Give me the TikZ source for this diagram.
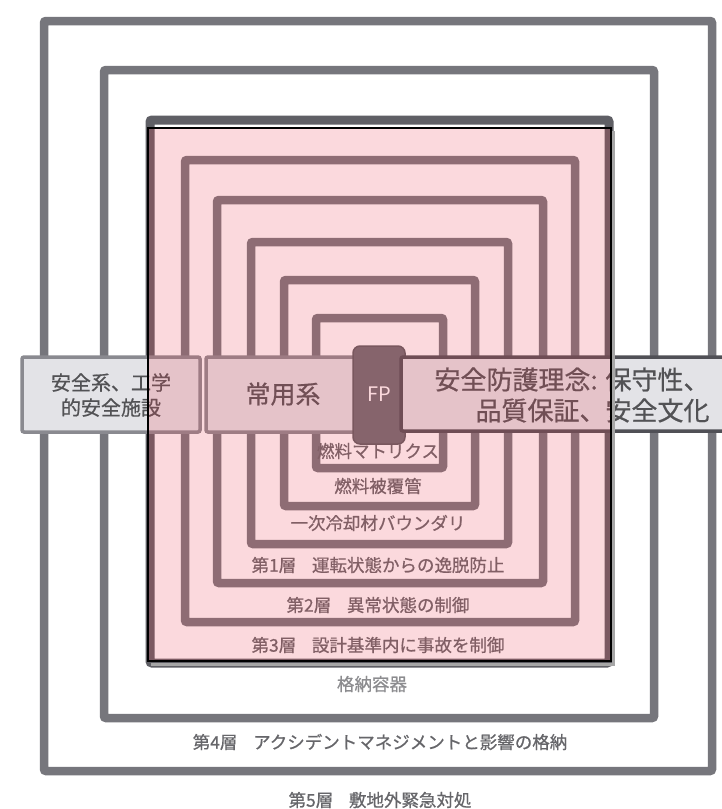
\documentclass[tikz,border=0pt]{standalone}
\usepackage{fontspec}
\newfontfamily\jp[FakeBold=0.7]{Noto Sans CJK JP}
\newfontfamily\jpr{Noto Sans CJK JP}
\definecolor{layergray}{HTML}{76767C}
\definecolor{contgray}{HTML}{5F5F65}
\definecolor{labelgray}{HTML}{66666A}
\definecolor{bandfill}{HTML}{E3E3E7}
\definecolor{bandedge}{HTML}{8A8A90}
\definecolor{rightedge}{HTML}{505056}
\definecolor{fpfill}{HTML}{6C6C72}
\definecolor{overlayred}{HTML}{EE4455}
\begin{document}
\begin{tikzpicture}[x=1pt,y=-1pt,
  layer/.style={draw=layergray, line width=8.5pt, rounded corners=2pt},
  lbl/.style={font=\jp\fontsize{17.5}{18}\selectfont, text=labelgray, inner sep=0pt},
  bandbox/.style={draw=bandedge, line width=3.5pt, fill=bandfill, rounded corners=2pt},
  bandtxt/.style={font=\jp\fontsize{20}{25}\selectfont, text=labelgray!80!black, align=center, inner sep=0pt}]
\useasboundingbox (0,0) rectangle (722,809);
\clip (0,0) rectangle (722,809);
\fill[white] (0,0) rectangle (722,809);
% nested layers
\draw[layer] (44,21) rectangle (712,771);
\draw[layer] (104,70) rectangle (654,718);
\draw[layer, draw=contgray, line width=9pt] (150,120) rectangle (609,663);
\draw[layer] (185,160) rectangle (575,622);
\draw[layer] (217,200) rectangle (543,583);
\draw[layer] (251,242) rectangle (508,544);
\draw[layer] (284,280) rectangle (475,506);
\draw[layer] (316,318) rectangle (443,468);
% layer labels
\node[lbl] (fm) at (378,451) {燃料マトリクス};
\node[lbl] (fc) at (378,486) {燃料被覆管};
\node[lbl] (pc) at (378,523) {一次冷却材バウンダリ};
\node[lbl] (l1) at (378,565) {第1層\hspace{0.9em}運転状態からの逸脱防止};
\node[lbl] (l2) at (378,605) {第2層\hspace{0.9em}異常状態の制御};
\node[lbl] (l3) at (378,645) {第3層\hspace{0.9em}設計基準内に事故を制御};
\node[lbl, text=labelgray!75] (cv) at (372,684) {格納容器};
\node[lbl] (l4) at (380,742) {第4層\hspace{0.9em}アクシデントマネジメントと影響の格納};
\node[lbl] (l5) at (380,800) {第5層\hspace{0.9em}敷地外緊急対処};
% band
\draw[bandbox] (22,357) rectangle (200,432);
\node[bandtxt] (sa) at (111,395) {安全系、工学\\的安全施設};
\draw[bandbox] (206,357) rectangle (358,432);
\node[bandtxt, font=\jp\fontsize{25}{25}\selectfont] (jy) at (283,394) {常用系};
\draw[fill=fpfill, draw=fpfill!85!black, line width=1.5pt, rounded corners=7pt] (353,346) rectangle (405,444);
\node[font=\jpr\fontsize{20}{20}\selectfont, text=white, inner sep=0pt] (fp) at (379,394) {FP};
\draw[bandbox, draw=rightedge] (401,357) rectangle (740,431);
\node[bandtxt, font=\jp\fontsize{26}{31}\selectfont, align=right] (sr) at (572,395) {安全防護理念: 保守性、\\品質保証、安全文化};
% highlight overlay
\fill[overlayred, fill opacity=0.2] (148,128) rectangle (611,661);
\draw[gray!70, line width=2.5pt] (151,664.5) -- (613.5,664.5) -- (613.5,131);
\draw[black, line width=1.8pt] (148,128) rectangle (611,661);
\end{tikzpicture}
\end{document}
